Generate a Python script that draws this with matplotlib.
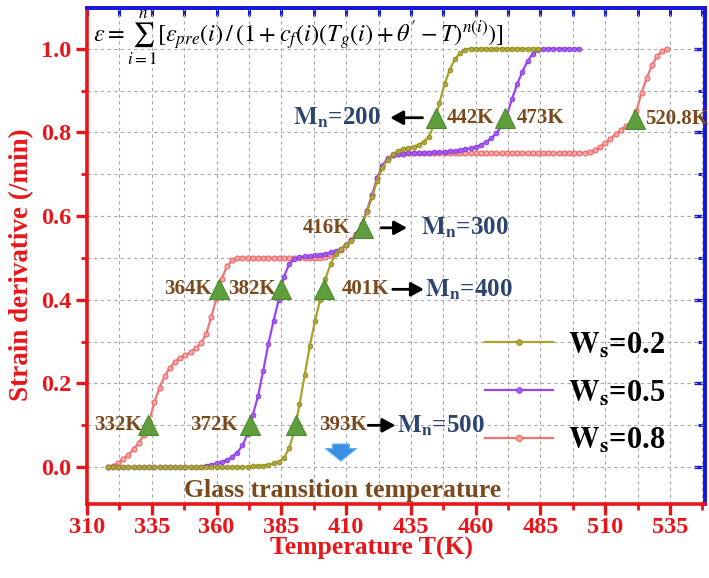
import matplotlib
matplotlib.use("Agg")
import matplotlib.pyplot as plt
from matplotlib.font_manager import FontProperties
from matplotlib.ticker import FixedLocator, FormatStrFormatter, MultipleLocator

# temperature grid shared by all three curves (K)
TEMP = [318, 320, 322, 324, 326, 328, 330, 332, 334, 336, 338, 340, 342, 344,
        346, 348, 350, 352, 354, 356, 358, 360, 362, 364, 366, 368, 370, 372,
        374, 376, 378, 380, 382, 384, 386, 388, 390, 392, 394, 396, 398, 400,
        402, 404, 406, 408, 410, 412, 414, 416, 418, 420, 422, 424, 426, 428,
        430, 432, 434, 436, 438, 440, 442, 444, 446, 448, 450, 452, 454, 456,
        458, 460, 462, 464, 466, 468, 470, 472, 474, 476, 478, 480, 482, 484,
        486, 488, 490, 492, 494, 496, 498, 500, 502, 504, 506, 508, 510, 512,
        514, 516, 518, 520, 522, 524, 526, 528, 530, 532, 534]

# W_s = 0.2 (318 .. 484 K)
ws02 = [0, 0, 0, 0, 0, 0, 0, 0, 0, 0, 0, 0, 0, 0,
        0, 0, 0, 0, 0, 0, 0, 0, 0, 0, 0, 0, 0, 0.001,
        0.002, 0.003, 0.004, 0.006, 0.009, 0.013, 0.022, 0.045, 0.085, 0.15, 0.22, 0.29, 0.35, 0.40,
        0.45, 0.485, 0.51, 0.522, 0.53, 0.54, 0.555, 0.575, 0.61, 0.645, 0.685, 0.715, 0.735, 0.748,
        0.755, 0.76, 0.763, 0.766, 0.77, 0.778, 0.79, 0.82, 0.87, 0.915, 0.95, 0.975, 0.99, 0.998,
        1.0, 1.0, 1.0, 1.0, 1.0, 1.0, 1.0, 1.0, 1.0, 1.0, 1.0, 1.0, 1.0, 1.0]

# W_s = 0.5 (318 .. 500 K)
ws05 = [0, 0, 0, 0, 0, 0, 0, 0, 0, 0, 0, 0, 0, 0,
        0, 0, 0, 0, 0, 0.004, 0.006, 0.009, 0.012, 0.017, 0.025, 0.035, 0.052, 0.08,
        0.125, 0.17, 0.23, 0.295, 0.35, 0.40, 0.455, 0.485, 0.497, 0.502, 0.504, 0.505, 0.506, 0.508,
        0.51, 0.513, 0.517, 0.522, 0.53, 0.542, 0.558, 0.58, 0.612, 0.65, 0.69, 0.72, 0.738, 0.745,
        0.748, 0.749, 0.75, 0.75, 0.75, 0.751, 0.751, 0.752, 0.753, 0.754, 0.755, 0.756, 0.758, 0.76,
        0.762, 0.765, 0.77, 0.777, 0.786, 0.798, 0.815, 0.84, 0.88, 0.915, 0.945, 0.97, 0.988, 0.998,
        1.0, 1.0, 1.0, 1.0, 1.0, 1.0, 1.0, 1.0]

# W_s = 0.8 (318 .. 534 K)
ws08 = [0.0, 0.004, 0.01, 0.02, 0.03, 0.043, 0.058, 0.078, 0.11, 0.155, 0.19, 0.218, 0.238, 0.252,
        0.261, 0.268, 0.275, 0.284, 0.297, 0.318, 0.36, 0.405, 0.45, 0.48, 0.494, 0.499, 0.5, 0.5,
        0.5, 0.5, 0.5, 0.5, 0.5, 0.5, 0.5, 0.5, 0.5, 0.5, 0.5, 0.5, 0.5, 0.501,
        0.503, 0.506, 0.512, 0.52, 0.53, 0.542, 0.558, 0.58, 0.612, 0.65, 0.69, 0.72, 0.737, 0.745,
        0.748, 0.749, 0.75, 0.75, 0.75, 0.75, 0.75, 0.75, 0.75, 0.75, 0.75, 0.75, 0.75, 0.75,
        0.75, 0.75, 0.75, 0.75, 0.75, 0.75, 0.75, 0.75, 0.75, 0.75, 0.75, 0.75, 0.75, 0.75,
        0.75, 0.75, 0.75, 0.75, 0.75, 0.75, 0.75, 0.75, 0.751, 0.753, 0.757, 0.765, 0.775, 0.785,
        0.795, 0.805, 0.815, 0.82, 0.85, 0.895, 0.93, 0.96, 0.982, 0.995, 1.0]

# glass transition markers
tg_temp = [333.7, 360.8, 385.0, 401.5, 373.0, 390.6, 416.4, 444.6, 471.5, 521.5]
tg_val = [0.10, 0.425, 0.425, 0.425, 0.10, 0.10, 0.572, 0.835, 0.835, 0.832]
tg_labels = ["332K", "364K", "382K", "401K", "372K", "393K", "416K", "442K", "473K", "520.8K"]

mn_labels = ["200", "300", "400", "500"]

x_major = [310, 335, 360, 385, 410, 435, 460, 485, 510, 535]

TICK_RED = "#e8161b"
BLUE = "#1616e0"
BROWN = "#7a4a1e"
NAVY = "#2b4470"
SERIF = "Liberation Serif"

fig = plt.figure(figsize=(7.09, 5.78), dpi=100)
ax = fig.add_axes([0.1227, 0.128, 0.8717, 0.858])

n02 = len(ws02)
n05 = len(ws05)
ax.plot(TEMP, ws08, color="#f17575", lw=1.6, marker="o", ms=3.6,
        mfc="#f8a8a8", mec="#ef6868", mew=0.8, label=r"$\mathbf{W_s}$=0.8", zorder=3)
ax.plot(TEMP[:n05], ws05, color="#9a45f2", lw=1.6, marker="o", ms=3.4,
        mfc="#a45cf2", mec="#8a36e6", mew=0.6, label=r"$\mathbf{W_s}$=0.5", zorder=4)
ax.plot(TEMP[:n02], ws02, color="#aaa22a", lw=1.6, marker="o", ms=3.4,
        mfc="#b1a83a", mec="#8f8a1c", mew=0.6, label=r"$\mathbf{W_s}$=0.2", zorder=5)

ax.plot(tg_temp, tg_val, linestyle="none", marker="^", ms=14,
        mfc="#5e9e3c", mec="#4a8a2c", mew=0.8, zorder=6)

lab_font = dict(family=SERIF, weight="bold", size=15, color=BROWN)
# label anchors: (x, y, ha)
label_pos = [(331.0, 0.10, "right"), (358.3, 0.425, "right"), (383.0, 0.425, "right"),
             (408.3, 0.425, "left"), (368.2, 0.10, "right"), (399.5, 0.10, "left"),
             (411.4, 0.572, "right"), (449.0, 0.835, "left"), (476.0, 0.835, "left"),
             (525.5, 0.832, "left")]
for lab, (lx, ly, ha) in zip(tg_labels, label_pos):
    ax.text(lx, ly, lab, ha=ha, va="center", clip_on=False, **lab_font)

mn_font = dict(family=SERIF, weight="bold", size=18, color=NAVY, math_fontfamily="stix")
mn_pos = [(389.5, 0.835), (438.8, 0.572), (440.6, 0.425), (429.5, 0.10)]
for lab, (mx, my) in zip(mn_labels, mn_pos):
    ax.text(mx, my, r"$\mathbf{M_n}$=" + lab, ha="left", va="center", **mn_font)

arrow_kw = dict(arrowstyle="-|>,head_length=0.55,head_width=0.3", color="black",
                lw=2.0, mutation_scale=14, shrinkA=0, shrinkB=0)
ax.annotate("", xy=(427.0, 0.835), xytext=(439.5, 0.835), arrowprops=arrow_kw)
ax.annotate("", xy=(433.5, 0.572), xytext=(423.5, 0.572), arrowprops=arrow_kw)
ax.annotate("", xy=(440.0, 0.425), xytext=(428.0, 0.425), arrowprops=arrow_kw)
ax.annotate("", xy=(429.0, 0.10), xytext=(418.5, 0.10), arrowprops=arrow_kw)

# blue down arrow + caption
ax.annotate("", xy=(408.0, 0.008), xytext=(408.0, 0.062),
            arrowprops=dict(arrowstyle="simple,head_length=0.6,head_width=1.5,tail_width=0.8",
                            fc="#3a8fe4", ec="#62b4f2", lw=0.8, mutation_scale=15))
ax.text(408.5, -0.055, "Glass transition temperature", ha="center", va="center",
        family=SERIF, weight="bold", size=18.5, color=BROWN)

ax.text(312.3, 1.027,
        r"$\varepsilon=\sum_{i=1}^{n}[\varepsilon_{pre}(i)\,/\,(1+c_f(i)(T_g(i)+\theta^{\prime}-T)^{n(i)})]$",
        ha="left", va="center", size=17.5, color="black", math_fontfamily="stix")

ax.set_xlim(310, 548.5)
ax.set_ylim(-0.088, 1.097)
ax.xaxis.set_major_locator(FixedLocator(x_major))
ax.xaxis.set_minor_locator(FixedLocator([t + 12.5 for t in x_major]))
ax.yaxis.set_major_locator(MultipleLocator(0.2))
ax.yaxis.set_minor_locator(MultipleLocator(0.1))
ax.yaxis.set_major_formatter(FormatStrFormatter("%.1f"))
ax.grid(True, which="both", color="#a8a8a8", linestyle=(0, (3, 3)), lw=0.8, zorder=0)
ax.set_axisbelow(True)

for side in ("left", "bottom"):
    ax.spines[side].set_color(TICK_RED)
    ax.spines[side].set_linewidth(2.6)
for side in ("top", "right"):
    ax.spines[side].set_color(BLUE)
    ax.spines[side].set_linewidth(2.6)

ax.tick_params(which="major", direction="out", length=8, width=2.4, color=TICK_RED,
               labelcolor=TICK_RED, labelsize=17.5, pad=3)
ax.tick_params(axis="x", which="major", pad=1)
ax.tick_params(which="minor", direction="out", length=4.5, width=2.0, color=TICK_RED)
for lbl in ax.get_xticklabels() + ax.get_yticklabels():
    lbl.set_family(SERIF)
    lbl.set_weight("bold")

secx = ax.secondary_xaxis("top")
secx.xaxis.set_major_locator(FixedLocator(x_major))
secx.xaxis.set_minor_locator(FixedLocator([t + 12.5 for t in x_major]))
secx.tick_params(which="both", direction="in", length=6, width=2.2, colors=BLUE,
                 labeltop=False)
secx.spines["top"].set_color(BLUE)
secx.spines["top"].set_linewidth(2.6)
secy = ax.secondary_yaxis("right")
secy.yaxis.set_major_locator(MultipleLocator(0.2))
secy.yaxis.set_minor_locator(MultipleLocator(0.1))
secy.tick_params(which="major", direction="in", length=8, width=2.4, colors=BLUE,
                 labelright=False)
secy.tick_params(which="minor", direction="in", length=5, width=2.2, colors=BLUE)
secy.spines["right"].set_color(BLUE)
secy.spines["right"].set_linewidth(2.6)

ax.set_xlabel("Temperature T(K)", family=SERIF, weight="bold", size=18.5,
              color=TICK_RED, va="center")
ax.xaxis.set_label_coords(0.46, -0.089)
ax.set_ylabel("Strain derivative (/min)", family=SERIF, weight="bold", size=19.5,
              color=TICK_RED, va="center")
ax.yaxis.set_label_coords(-0.105, 0.482)

handles, labels = ax.get_legend_handles_labels()
ax.legend(handles[::-1], labels[::-1], loc="upper left", bbox_to_anchor=(0.6, 0.405),
          frameon=False, handlelength=2.2, handletextpad=0.5, labelspacing=0.6,
          numpoints=1, markerscale=1.2,
          prop=FontProperties(family=SERIF, weight="bold", size=22,
                              math_fontfamily="stix"))

fig.savefig("out.png", dpi=100)
